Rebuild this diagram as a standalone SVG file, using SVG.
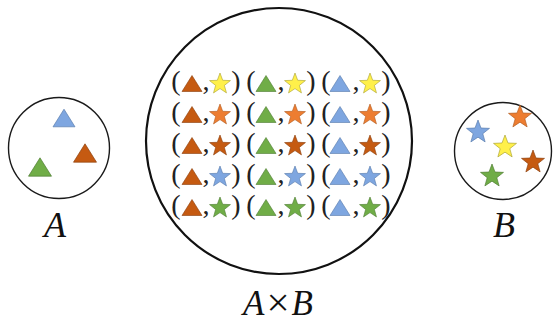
<svg xmlns="http://www.w3.org/2000/svg" xmlns:xlink="http://www.w3.org/1999/xlink" width="553" height="326" viewBox="0 0 553 326">
<style>
.set{fill:#fff;stroke:#1a1a1a;stroke-width:1.4}
.big{fill:#fff;stroke:#111;stroke-width:2.2}
.lbl{font-family:"Liberation Serif","Times New Roman",serif;font-style:italic;fill:#111;font-size:36px;text-anchor:middle}
.up{font-style:normal}
.p{font-family:"Liberation Serif","Times New Roman",serif;fill:#222;font-size:28px;text-anchor:middle}
.br{fill:#C55A11;stroke:#8a3d0a;stroke-width:.6}
.gr{fill:#70AD47;stroke:#4c7a30;stroke-width:.6}
.bl{fill:#7EA6E0;stroke:#5578aa;stroke-width:.6}
.ye{fill:#FFF04A;stroke:#a8a030;stroke-width:.6}
.or{fill:#ED7D31;stroke:#b05a1e;stroke-width:.6}
</style>
<defs>
<path id="tri" d="M0,-8 L10,8 L-10,8 Z"/>
<path id="star" d="M0,-10 L2.70,-2.72 L10.46,-2.40 L4.37,2.42 L6.47,9.90 L0,5.6 L-6.47,9.90 L-4.37,2.42 L-10.46,-2.40 L-2.70,-2.72 Z"/>
</defs>
<g id="setA">
<circle class="set" cx="59" cy="148" r="50.5"/>
<use xlink:href="#tri" class="bl" transform="translate(64,118) scale(1.1)"/>
<use xlink:href="#tri" class="br" transform="translate(85,153) scale(1.15)"/>
<use xlink:href="#tri" class="gr" transform="translate(40,167) scale(1.15)"/>
<text class="lbl" x="55" y="237">A</text>
</g>
<g id="setB">
<circle class="set" cx="503" cy="151" r="48.5"/>
<use xlink:href="#star" class="bl" transform="translate(478,131) scale(1.1)"/>
<use xlink:href="#star" class="or" transform="translate(520,116) scale(1.1)"/>
<use xlink:href="#star" class="ye" transform="translate(505,146) scale(1.1)"/>
<use xlink:href="#star" class="br" transform="translate(533,161) scale(1.1)"/>
<use xlink:href="#star" class="gr" transform="translate(492,175) scale(1.1)"/>
<text class="lbl" x="504" y="237">B</text>
</g>
<g id="setAxB">
<circle class="big" cx="279" cy="141" r="133"/>
<g id="pairs">
<g id="row1">
<text class="p" x="176" y="90">(</text><use xlink:href="#tri" class="br" transform="translate(192,83.5)"/><text class="p" x="206" y="90">,</text><use xlink:href="#star" class="ye" transform="translate(220,83)"/><text class="p" x="236" y="90">)</text>
<text class="p" x="251" y="90">(</text><use xlink:href="#tri" class="gr" transform="translate(266,83.5)"/><text class="p" x="281" y="90">,</text><use xlink:href="#star" class="ye" transform="translate(295,83)"/><text class="p" x="311" y="90">)</text>
<text class="p" x="326" y="90">(</text><use xlink:href="#tri" class="bl" transform="translate(340,83.5)"/><text class="p" x="356" y="90">,</text><use xlink:href="#star" class="ye" transform="translate(370,83)"/><text class="p" x="386" y="90">)</text>
</g>
<g id="row2" transform="translate(0,31)">
<text class="p" x="176" y="90">(</text><use xlink:href="#tri" class="br" transform="translate(192,83.5)"/><text class="p" x="206" y="90">,</text><use xlink:href="#star" class="or" transform="translate(220,83)"/><text class="p" x="236" y="90">)</text>
<text class="p" x="251" y="90">(</text><use xlink:href="#tri" class="gr" transform="translate(266,83.5)"/><text class="p" x="281" y="90">,</text><use xlink:href="#star" class="or" transform="translate(295,83)"/><text class="p" x="311" y="90">)</text>
<text class="p" x="326" y="90">(</text><use xlink:href="#tri" class="bl" transform="translate(340,83.5)"/><text class="p" x="356" y="90">,</text><use xlink:href="#star" class="or" transform="translate(370,83)"/><text class="p" x="386" y="90">)</text>
</g>
<g id="row3" transform="translate(0,62)">
<text class="p" x="176" y="90">(</text><use xlink:href="#tri" class="br" transform="translate(192,83.5)"/><text class="p" x="206" y="90">,</text><use xlink:href="#star" class="br" transform="translate(220,83)"/><text class="p" x="236" y="90">)</text>
<text class="p" x="251" y="90">(</text><use xlink:href="#tri" class="gr" transform="translate(266,83.5)"/><text class="p" x="281" y="90">,</text><use xlink:href="#star" class="br" transform="translate(295,83)"/><text class="p" x="311" y="90">)</text>
<text class="p" x="326" y="90">(</text><use xlink:href="#tri" class="bl" transform="translate(340,83.5)"/><text class="p" x="356" y="90">,</text><use xlink:href="#star" class="br" transform="translate(370,83)"/><text class="p" x="386" y="90">)</text>
</g>
<g id="row4" transform="translate(0,93)">
<text class="p" x="176" y="90">(</text><use xlink:href="#tri" class="br" transform="translate(192,83.5)"/><text class="p" x="206" y="90">,</text><use xlink:href="#star" class="bl" transform="translate(220,83)"/><text class="p" x="236" y="90">)</text>
<text class="p" x="251" y="90">(</text><use xlink:href="#tri" class="gr" transform="translate(266,83.5)"/><text class="p" x="281" y="90">,</text><use xlink:href="#star" class="bl" transform="translate(295,83)"/><text class="p" x="311" y="90">)</text>
<text class="p" x="326" y="90">(</text><use xlink:href="#tri" class="bl" transform="translate(340,83.5)"/><text class="p" x="356" y="90">,</text><use xlink:href="#star" class="bl" transform="translate(370,83)"/><text class="p" x="386" y="90">)</text>
</g>
<g id="row5" transform="translate(0,124)">
<text class="p" x="176" y="90">(</text><use xlink:href="#tri" class="br" transform="translate(192,83.5)"/><text class="p" x="206" y="90">,</text><use xlink:href="#star" class="gr" transform="translate(220,83)"/><text class="p" x="236" y="90">)</text>
<text class="p" x="251" y="90">(</text><use xlink:href="#tri" class="gr" transform="translate(266,83.5)"/><text class="p" x="281" y="90">,</text><use xlink:href="#star" class="gr" transform="translate(295,83)"/><text class="p" x="311" y="90">)</text>
<text class="p" x="326" y="90">(</text><use xlink:href="#tri" class="bl" transform="translate(340,83.5)"/><text class="p" x="356" y="90">,</text><use xlink:href="#star" class="gr" transform="translate(370,83)"/><text class="p" x="386" y="90">)</text>
</g>
</g>
<text class="lbl" x="278" y="315" style="font-size:35px">A<tspan class="up" dx="2" dy="1" style="font-size:41px">×</tspan><tspan dx="2" dy="-1">B</tspan></text>
</g>
<g id="connectors"/>
</svg>
